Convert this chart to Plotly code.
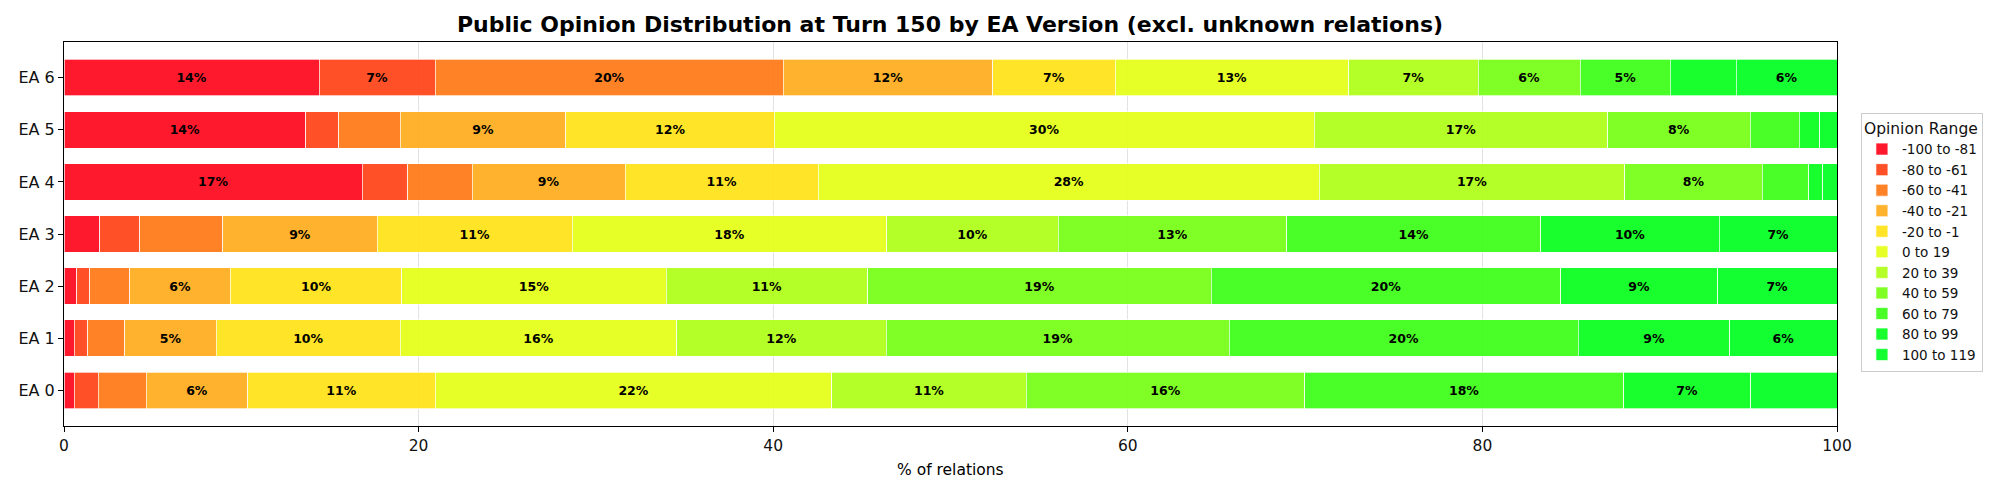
import plotly.graph_objects as go

# ---- data ----
versions = ["EA 0", "EA 1", "EA 2", "EA 3", "EA 4", "EA 5", "EA 6"]
opinion_ranges = ["-100 to -81", "-80 to -61", "-60 to -41", "-40 to -21", "-20 to -1",
                  "0 to 19", "20 to 39", "40 to 59", "60 to 79", "80 to 99", "100 to 119"]

# share (%) of relations in each opinion range, per EA version (EA 0 .. EA 6)
r_m100 = [0.58, 0.58, 0.72, 2.01, 16.83, 13.63, 14.39]
r_m80 = [1.36, 0.75, 0.72, 2.27, 2.56, 1.87, 6.55]
r_m60 = [2.70, 2.09, 2.27, 4.68, 3.63, 3.46, 19.64]
r_m40 = [5.72, 5.18, 5.68, 8.70, 8.63, 9.35, 11.79]
r_m20 = [10.58, 10.36, 9.67, 11.01, 10.90, 11.76, 6.91]
r_0 = [22.37, 15.61, 14.90, 17.73, 28.25, 30.44, 13.18]
r_20 = [10.97, 11.80, 11.36, 9.68, 17.24, 16.56, 7.30]
r_40 = [15.69, 19.35, 19.40, 12.88, 7.74, 8.03, 5.76]
r_60 = [18.00, 19.69, 19.69, 14.33, 2.63, 2.77, 5.08]
r_80 = [7.16, 8.54, 8.85, 10.08, 0.79, 1.15, 3.71]
r_100 = [4.87, 6.05, 6.74, 6.63, 0.80, 0.98, 5.69]

series = [r_m100, r_m80, r_m60, r_m40, r_m20, r_0, r_20, r_40, r_60, r_80, r_100]

colors = [
    "rgba(255,5,27,0.92)", "rgba(255,65,21,0.92)", "rgba(255,119,21,0.92)",
    "rgba(255,171,27,0.92)", "rgba(255,226,21,0.92)", "rgba(228,255,21,0.92)",
    "rgba(174,255,21,0.92)", "rgba(117,255,21,0.92)", "rgba(59,255,21,0.92)",
    "rgba(5,255,27,0.92)", "rgba(0,255,32,0.92)",
]

FONT = "DejaVu Sans"

fig = go.Figure()
for name, vals, col in zip(opinion_ranges, series, colors):
    labels = [f"{v:.0f}%" if v >= 5 else "" for v in vals]
    fig.add_trace(go.Bar(
        name=name, y=versions, x=vals, orientation="h",
        marker=dict(color=col, line=dict(color="rgba(255,255,255,0.85)", width=0.8)),
        text=labels, textposition="inside", insidetextanchor="middle", textangle=0,
        constraintext="none",
        textfont=dict(family=FONT, size=12.5, color="black", weight="bold"),
    ))

fig.update_layout(
    width=2000, height=491,
    barmode="stack", bargap=0.3,
    paper_bgcolor="white", plot_bgcolor="white",
    margin=dict(l=64, r=163, t=42, b=65, autoexpand=False),
    font=dict(family=FONT, color="black"),
    title=dict(
        text="<b>Public Opinion Distribution at Turn 150 by EA Version (excl. unknown relations)</b>",
        font=dict(family=FONT, size=22, color="black"),
        x=0.475, xanchor="center", xref="container",
        y=1 - 24 / 491, yanchor="middle", yref="container",
    ),
    legend=dict(
        title=dict(text="Opinion Range", font=dict(family=FONT, size=15.5, color="#111")),
        font=dict(family=FONT, size=13.5, color="#111"),
        x=1.0135, xanchor="left", y=0.816, yanchor="top",
        bgcolor="white", bordercolor="#cccccc", borderwidth=1,
        traceorder="normal", tracegroupgap=0,
    ),
    annotations=[dict(
        text="% of relations", xref="paper", yref="paper", x=0.5, y=-0.1146,
        xanchor="center", yanchor="middle", showarrow=False,
        font=dict(family=FONT, size=15.5, color="black"),
    )],
)

fig.update_xaxes(
    range=[0, 100], tickvals=[0, 20, 40, 60, 80, 100],
    showgrid=True, gridcolor="rgba(176,176,176,0.35)", gridwidth=1,
    showline=True, linecolor="black", linewidth=1.1, mirror=True,
    ticks="outside", ticklen=5, tickcolor="black", tickwidth=1.1,
    tickfont=dict(family=FONT, size=15.5, color="#111"),
    zeroline=False,
)
fig.update_yaxes(
    type="category", range=[-0.685, 6.685],
    showgrid=False,
    showline=True, linecolor="black", linewidth=1.1, mirror=True,
    ticks="outside", ticklen=5, tickcolor="black", tickwidth=1.1,
    tickfont=dict(family=FONT, size=16, color="#111"),
    zeroline=False,
)

fig.write_html("out.html")
